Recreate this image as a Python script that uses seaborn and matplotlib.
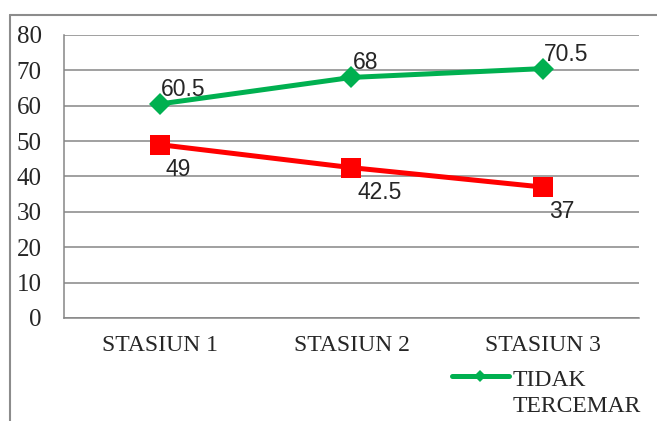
import pandas as pd
import matplotlib.pyplot as plt
import seaborn as sns
from matplotlib.lines import Line2D

stations = ['STASIUN 1', 'STASIUN 2', 'STASIUN 3']
tidak_tercemar = [60.5, 68, 70.5]
tercemar = [49, 42.5, 37]
y_ticks = [0, 10, 20, 30, 40, 50, 60, 70, 80]

green = '#00B050'
red = '#FF0000'
grid_gray = '#868686'

sns.set_style('white')
plt.rcParams['font.family'] = ['Liberation Serif', 'DejaVu Serif']

fig = plt.figure(figsize=(6.57, 4.21), dpi=100)
ax = fig.add_axes([0.0974, 0.2447, 0.8752, 0.6722])

df = pd.DataFrame({'stasiun': stations, 'tidak': tidak_tercemar, 'tercemar': tercemar})

sns.lineplot(x='stasiun', y='tercemar', data=df, color=red, marker='s',
             markersize=14, markeredgewidth=0, linewidth=3.6, ax=ax, zorder=3)
sns.lineplot(x='stasiun', y='tidak', data=df, color=green, marker='D',
             markersize=11, markeredgewidth=0, linewidth=3.6, ax=ax, zorder=3,
             label='TIDAK\nTERCEMAR')

# data labels
for i, v in enumerate(tidak_tercemar):
    ax.annotate(f'{v:g}', (i, v), xytext=(1, 8), textcoords='offset pixels',
                ha='left', va='baseline', fontsize=16.5, family='Liberation Sans')
for i, v in enumerate(tercemar):
    ax.annotate(f'{v:g}', (i, v), xytext=(6, -31), textcoords='offset pixels',
                ha='left', va='baseline', fontsize=16.5, family='Liberation Sans')

ax.set_xlim(-0.5, 2.5)
ax.set_ylim(0, 80)
ax.set_yticks(y_ticks)
ax.set_xlabel('')
ax.set_ylabel('')
ax.yaxis.grid(True, color=grid_gray, linewidth=1.1)
ax.set_axisbelow(True)
ax.tick_params(axis='both', length=0)
ax.tick_params(axis='y', pad=16, labelsize=18)
ax.tick_params(axis='x', pad=12, labelsize=17)
for side in ['top', 'right']:
    ax.spines[side].set_visible(False)
for side in ['left', 'bottom']:
    ax.spines[side].set_color(grid_gray)
    ax.spines[side].set_linewidth(1.1)

leg = ax.legend(loc='upper left', bbox_to_anchor=(452 / 657, 1 - 350 / 421),
                bbox_transform=fig.transFigure, frameon=False, fontsize=17,
                borderpad=0, borderaxespad=0, handlelength=2.4,
                handletextpad=0.15, handleheight=5.6, markerscale=0.55)
leg.get_texts()[0].set_linespacing(1.3)

# outer border
fig.add_artist(Line2D([10 / 657, 1], [1 - 15 / 421, 1 - 15 / 421],
                      transform=fig.transFigure, color='#8c8c8c', linewidth=1.5))
fig.add_artist(Line2D([10 / 657, 10 / 657], [0, 1 - 15 / 421],
                      transform=fig.transFigure, color='#8c8c8c', linewidth=1.5))

fig.savefig('out.png', dpi=100)
